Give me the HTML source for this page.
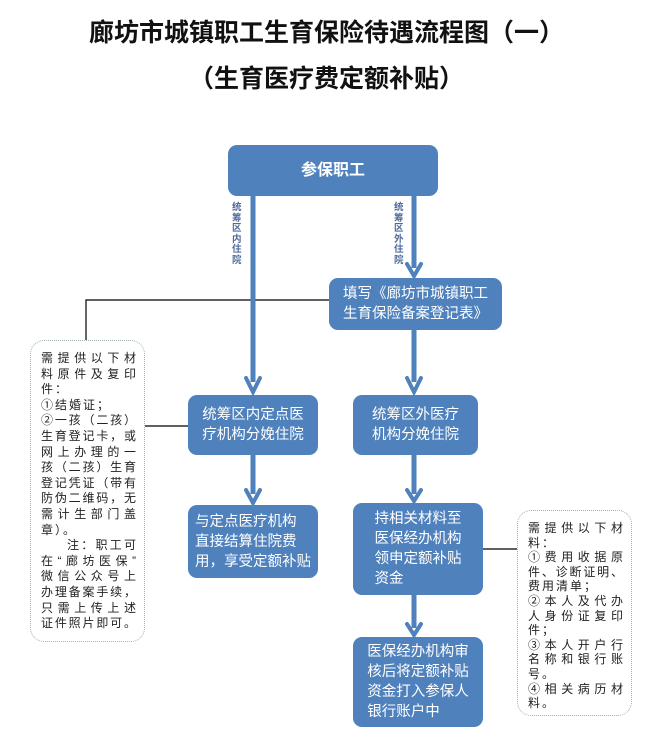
<!DOCTYPE html>
<html><head><meta charset="utf-8"><style>
body{margin:0;width:653px;height:740px;background:#fff;position:relative;overflow:hidden;font-family:"Liberation Sans","Noto Sans CJK SC",sans-serif}
.t{position:absolute;left:0;width:653px;text-align:center;font-weight:bold;color:#111}
.b{position:absolute;background:#4f81bd;border-radius:9px;color:#fff;font-size:14.5px;line-height:20px;box-sizing:border-box;display:flex;align-items:center;justify-content:center;text-align:left;padding:0 6px}
.n{position:absolute;border:1.5px dotted #a0b0b0;border-radius:14px;box-sizing:border-box;font-size:12px;line-height:15.6px;color:#222;padding:10px 8px 0 10px}
.n div{text-align:justify;text-align-last:justify;white-space:nowrap;overflow:hidden;letter-spacing:0}
.n div.s{text-align-last:left;letter-spacing:2px}
svg{position:absolute;left:0;top:0}
.v{position:absolute;width:11px;font-size:9.5px;line-height:10.5px;color:#4f6b9a;font-weight:bold}
</style></head><body>
<div class="t" style="top:13px;font-size:25px">廊坊市城镇职工生育保险待遇流程图（一）</div>
<div class="t" style="top:59px;font-size:25px">（生育医疗费定额补贴）</div>
<svg width="653" height="740">
<g stroke="#000" stroke-width="1.2" fill="none">
<polyline points="86,340 86,300 329,300"/>
<line x1="145" y1="426" x2="188" y2="426"/>
<line x1="483" y1="549" x2="517" y2="549"/>
</g>
<g stroke="#4f81bd" stroke-width="5" fill="none">
<line x1="253" y1="196" x2="253" y2="382"/>
<line x1="414" y1="196" x2="414" y2="268"/>
<line x1="414" y1="330" x2="414" y2="382"/>
<line x1="253" y1="455" x2="253" y2="494"/>
<line x1="414" y1="455" x2="414" y2="494"/>
<line x1="414" y1="595" x2="414" y2="628"/>
</g>
<g stroke="#4f81bd" stroke-width="4" fill="none" stroke-linecap="round">
<polyline points="246,378 253,392 260,378"/>
<polyline points="407,264 414,276 421,264"/>
<polyline points="407,378 414,392 421,378"/>
<polyline points="246,490 253,503 260,490"/>
<polyline points="407,490 414,501 421,490"/>
<polyline points="407,624 414,635 421,624"/>
</g>
</svg>
<div class="v" style="left:232px;top:203px">统筹区内住院</div>
<div class="v" style="left:394px;top:203px">统筹区外住院</div>
<div class="b" style="left:228px;top:145px;width:210px;height:51px;justify-content:center;font-weight:bold;font-size:16px">参保职工</div>
<div class="b" style="left:329px;top:278px;width:173px;height:52px">填写《廊坊市城镇职工<br>生育保险备案登记表》</div>
<div class="b" style="left:188px;top:395px;width:130px;height:60px">统筹区内定点医<br>疗机构分娩住院</div>
<div class="b" style="left:353px;top:395px;width:125px;height:60px">统筹区外医疗<br>机构分娩住院</div>
<div class="b" style="left:188px;top:505px;width:130px;height:73px">与定点医疗机构<br>直接结算住院费<br>用，享受定额补贴</div>
<div class="b" style="left:353px;top:503px;width:130px;height:92px">持相关材料至<br>医保经办机构<br>领申定额补贴<br>资金</div>
<div class="b" style="left:353px;top:637px;width:130px;height:90px">医保经办机构审<br>核后将定额补贴<br>资金打入参保人<br>银行账户中</div>
<div class="n" style="left:30px;top:340px;width:115px;height:302px">
<div>需提供以下材</div><div>料原件及复印</div><div class="s">件：</div><div class="s">①结婚证；</div><div>②一孩（二孩）</div><div>生育登记卡，或</div><div>网上办理的一</div><div>孩（二孩）生育</div><div>登记凭证（带有</div><div>防伪二维码，无</div><div>需计生部门盖</div><div class="s">章）。</div><div style="padding-left:26px">注：职工可</div><div>在“廊坊医保”</div><div>微信公众号上</div><div>办理备案手续，</div><div>只需上传上述</div><div>证件照片即可。</div></div>
<div class="n" style="left:517px;top:510px;width:115px;height:206px;line-height:14.6px">
<div>需提供以下材</div><div class="s">料：</div><div>①费用收据原</div><div>件、诊断证明、</div><div class="s">费用清单；</div><div>②本人及代办</div><div>人身份证复印</div><div class="s">件；</div><div>③本人开户行</div><div>名称和银行账</div><div class="s">号。</div><div>④相关病历材</div><div class="s">料。</div></div>
</body></html>
